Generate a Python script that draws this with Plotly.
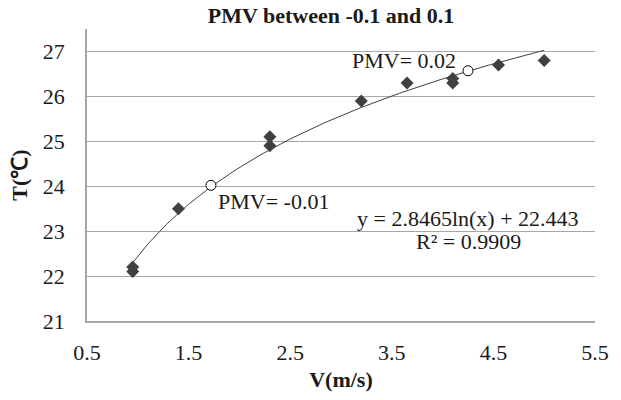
import numpy as np
import plotly.graph_objects as go

# Measured data (air velocity V in m/s, temperature T in degC)
V = [0.95, 0.95, 1.4, 2.3, 2.3, 3.2, 3.65, 4.1, 4.1, 4.55, 5.0]
T = [22.1, 22.2, 23.5, 25.1, 24.9, 25.9, 26.3, 26.4, 26.3, 26.7, 26.8]

# Highlighted PMV points
pmv_V = [1.72, 4.25]
pmv_T = [24.02, 26.57]
pmv_labels = ["PMV= -0.01", "PMV= 0.02"]

# Logarithmic trendline coefficients (as printed on chart)
coef_a = 2.8465
coef_b = 22.443
r2 = 0.9909

x_ticks = [0.5, 1.5, 2.5, 3.5, 4.5, 5.5]
y_ticks = [21, 22, 23, 24, 25, 26, 27]

FONT = "Liberation Serif"
DARK = "#404040"
GRID = "#a6a6a6"
TXT = "#1a1a1a"
FS = 22

xt = np.linspace(min(V), max(V), 200)
yt = coef_a * np.log(xt) + coef_b

fig = go.Figure()
fig.add_trace(go.Scatter(x=xt, y=yt, mode="lines",
                         line=dict(color=DARK, width=1), showlegend=False,
                         hoverinfo="skip"))
fig.add_trace(go.Scatter(x=V, y=T, mode="markers",
                         marker=dict(symbol="diamond", size=10, color=DARK),
                         showlegend=False))
fig.add_trace(go.Scatter(x=pmv_V, y=pmv_T, mode="markers",
                         marker=dict(symbol="circle", size=10, color="white",
                                     line=dict(color="black", width=1)),
                         showlegend=False))

# PMV labels
fig.add_annotation(x=pmv_V[0], y=pmv_T[0], text=pmv_labels[0], showarrow=False,
                   xanchor="left", yanchor="top", xshift=5, yshift=-2,
                   font=dict(family=FONT, size=FS, color=TXT))
fig.add_annotation(x=pmv_V[1], y=pmv_T[1], text=pmv_labels[1], showarrow=False,
                   xanchor="right", yanchor="bottom", xshift=-10, yshift=-4,
                   font=dict(family=FONT, size=FS, color=TXT))

# Trendline equation
fig.add_annotation(xref="paper", yref="paper", x=(477-87)/520, y=(323-220)/294,
                   text=f"y = {coef_a}ln(x) + {coef_b}", showarrow=False,
                   xanchor="center", yanchor="middle",
                   font=dict(family=FONT, size=FS, color=TXT))
fig.add_annotation(xref="paper", yref="paper", x=(477-87)/520, y=(323-243)/294,
                   text=f"R² = {r2}", showarrow=False,
                   xanchor="center", yanchor="middle",
                   font=dict(family=FONT, size=FS, color=TXT))

fig.update_layout(
    width=621, height=400,
    margin=dict(l=87, r=14, t=29, b=77),
    paper_bgcolor="white", plot_bgcolor="white",
    font=dict(family=FONT, size=FS, color=TXT),
    title=dict(text="<b>PMV between -0.1 and 0.1</b>",
               x=331/621, xref="container", xanchor="center",
               y=1-15/400, yref="container", yanchor="middle",
               font=dict(family=FONT, size=22, color=TXT)),
    xaxis=dict(range=[0.5, 5.5], tickvals=x_ticks,
               ticktext=[str(v) for v in x_ticks],
               tickfont=dict(family=FONT, size=FS, color=TXT),
               showgrid=False, zeroline=False,
               showline=True, linecolor=GRID, linewidth=1.5,
               ticks="", ticklabelstandoff=11,
               title=dict(text="<b>V(m/s)</b>", standoff=7,
                          font=dict(family=FONT, size=FS, color=TXT))),
    yaxis=dict(range=[21, 27.5], tickvals=y_ticks,
               tickfont=dict(family=FONT, size=FS, color=TXT),
               showgrid=True, gridcolor=GRID, gridwidth=1,
               zeroline=False,
               showline=True, linecolor=GRID, linewidth=1.5,
               ticks="", ticklabelstandoff=16,
               title=dict(text="<b>T(℃)</b>", standoff=9,
                          font=dict(family=FONT, size=FS, color=TXT))),
)

fig.write_html("out.html")
